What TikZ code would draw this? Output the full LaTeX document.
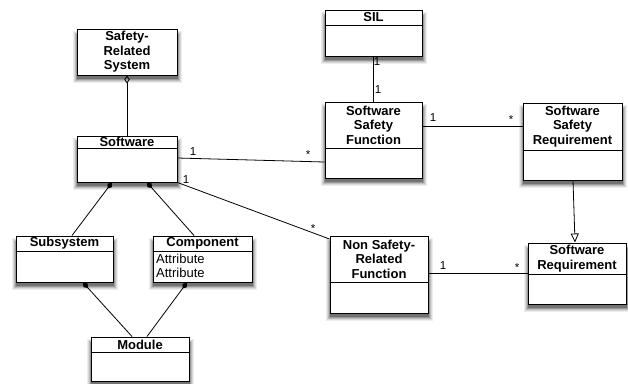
\documentclass[tikz,border=0pt]{standalone}
\usepackage{fontspec}
\setmainfont{Liberation Sans}
\usetikzlibrary{arrows.meta}
\definecolor{shA}{gray}{0.93}
\definecolor{shB}{gray}{0.85}
\definecolor{shC}{gray}{0.74}
\definecolor{shD}{gray}{0.6}
\definecolor{shE}{gray}{0.45}
\tikzset{
 classbox/.style={draw=black, line width=1pt, fill=white, inner sep=0pt},
 ttl/.style={font=\bfseries\fontsize{13}{14.5}\selectfont, align=center, inner sep=0pt},
 attr/.style={font=\fontsize{13}{14.5}\selectfont, align=left, inner sep=0pt, anchor=west},
 mult/.style={font=\fontsize{11.5}{12}\selectfont, inner sep=0pt},
 conn/.style={line width=0.8pt},
 comp/.style={conn, {Diamond[length=7.5pt,width=5.5pt]}-},
 aggr/.style={conn, {Diamond[open,length=8pt,width=5.5pt]}-},
 gen/.style={conn, -{Triangle[open,length=9pt,width=8pt]}},
}
\newcommand\umlbox[7]{%
 \fill[shA] ({#2-4},{#3+2}) rectangle ({#4+5},{#5+8});
 \fill[shB] ({#2-3},{#3+3}) rectangle ({#4+4},{#5+7});
 \fill[shC] ({#2-2},{#3+4}) rectangle ({#4+3},{#5+6});
 \fill[shD] ({#2-1},{#3+5}) rectangle ({#4+2},{#5+5});
 \fill[shE] ({#2},{#3+6}) rectangle ({#4+1},{#5+3.5});
 \node[classbox, minimum width={#4-#2}, minimum height={#5-#3}] (#1) at ({(#2+#4)/2},{(#3+#5)/2}) {};
 \node[ttl] (#1t) at ({(#2+#4)/2},{(#3+#6)/2}) {#7};
 \draw[line width=1pt] (#1.west |- 0,#6) -- (#1.east |- 0,#6);
}
\begin{document}
\begin{tikzpicture}[x=1pt,y=-1pt]
\useasboundingbox (0,0) rectangle (628,383);
\fill[white] (0,0) rectangle (628,383);

\umlbox{srs}{77}{29}{177}{75}{75}{Safety-\\Related\\System}
\umlbox{sw}{77}{136}{177}{182}{148}{Software}
\umlbox{sub}{16}{236}{113}{282}{251}{Subsystem}
\umlbox{cmp}{153}{236}{252}{282}{251}{Component}
\umlbox{mod}{91}{337}{189}{381}{352}{Module}
\umlbox{sil}{325}{10}{422}{56}{25}{SIL}
\umlbox{ssf}{325}{102}{422}{178}{148}{Software\\Safety\\Function}
\umlbox{ssr}{523}{103}{622}{180}{150}{Software\\Safety\\Requirement}
\umlbox{nsrf}{330}{236}{428}{313}{282}{Non Safety-\\Related\\Function}
\umlbox{sr}{528}{243}{626}{304}{274}{Software\\Requirement}

\node[attr] (a1) at (156,259) {Attribute};
\node[attr] (a2) at (156,273) {Attribute};

\draw[aggr] (srs.south) -- (sw.north);
\draw[comp] (sw.south -| 112,0) -- (sub.north -| 72,0);
\draw[comp] (sw.south -| 147,0) -- (cmp.north -| 194,0);
\draw[comp] (sub.south -| 83,0) -- (mod.north -| 132,0);
\draw[comp] (cmp.south -| 187,0) -- (mod.north -| 147,0);

\draw[conn] (sw.east |- 0,158) -- (ssf.west |- 0,162);
\draw[conn] (sw.south east) -- (nsrf.west |- 0,239);
\draw[conn] (sil.south) -- (ssf.north);
\draw[conn] (ssf.east |- 0,126) -- (ssr.west |- 0,126);
\draw[conn] (nsrf.east |- 0,273) -- (sr.west |- 0,273);
\draw[gen] (ssr.south -| 573,0) -- (sr.north -| 575,0);

\node[mult] (m1) at (377,62) {1};
\node[mult] (m2) at (378,90) {1};
\node[mult] (m3) at (433,118) {1};
\node[mult] (m4) at (511,120) {*};
\node[mult] (m5) at (193,152) {1};
\node[mult] (m6) at (308,155) {*};
\node[mult] (m7) at (186,180) {1};
\node[mult] (m8) at (313,229) {*};
\node[mult] (m9) at (443,266) {1};
\node[mult] (m10) at (517,268) {*};
\end{tikzpicture}
\end{document}
